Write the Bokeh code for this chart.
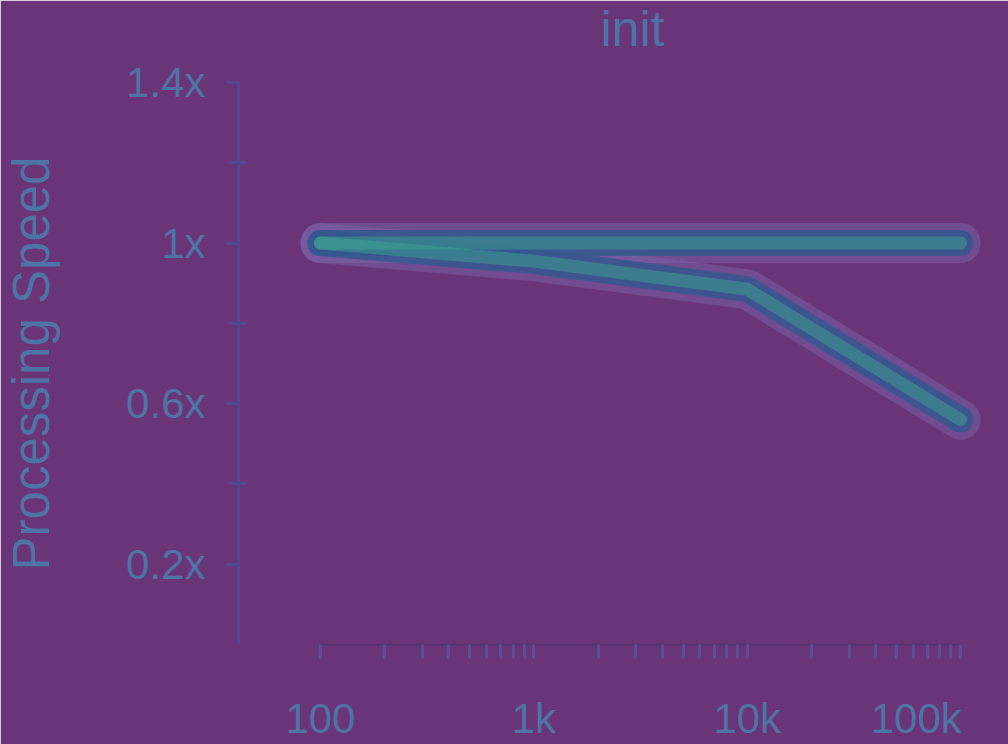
from bokeh.plotting import figure
from bokeh.models import ColumnDataSource, FixedTicker, CustomJSTickFormatter, Range1d, Title
from bokeh.embed import file_html
from bokeh.resources import INLINE

# ---- data ----
sizes = [100, 1000, 10000, 100000]
speed_flat = [1.0, 1.0, 1.0, 1.0]
speed_drop = [1.0, 0.955, 0.885, 0.56]
y_major_ticks = [0.2, 0.6, 1.0, 1.4]
y_minor_ticks = [0.4, 0.8, 1.2]
x_major_ticks = [100, 1000, 10000, 100000]
x_minor_mult = [2, 3, 4, 5, 6, 7, 8, 9]
title_text = "init"
y_label = "Processing Speed"

BG = "#6a3578"
TEXT = "#4d74a3"
FONT = "Liberation Sans"

p = figure(width=1008, height=744, x_axis_type="log",
           x_range=Range1d(41.3, 138000), y_range=Range1d(0, 1.4),
           output_backend="svg", toolbar_location=None,
           min_border_left=238, min_border_right=18,
           min_border_top=82, min_border_bottom=95)

p.background_fill_color = BG
p.border_fill_color = BG
p.outline_line_color = BG
p.outline_line_width = 2
p.grid.visible = False

# spacing between plot frame and title
p.add_layout(Title(text=" ", text_font_size="2px", standoff=20, text_color=BG), "above")

# title
p.title.text = title_text
p.title.align = "left"
p.title.offset = 362
p.title.standoff = 0
p.title.vertical_align = "top"
p.title.text_font = FONT
p.title.text_font_size = "50px"
p.title.text_font_style = "normal"
p.title.text_color = TEXT

src_a = ColumnDataSource(dict(x=sizes, y=speed_flat))
src_b = ColumnDataSource(dict(x=sizes, y=speed_drop))

for src in (src_a, src_b):
    p.line("x", "y", source=src, line_width=40, line_color="#7a69ad", line_alpha=0.45,
           line_cap="round", line_join="round")
for src in (src_a, src_b):
    p.line("x", "y", source=src, line_width=26, line_color="#34578f", line_alpha=0.85,
           line_cap="round", line_join="round")
for src in (src_a, src_b):
    p.line("x", "y", source=src, line_width=13, line_color="#3fb08f", line_alpha=0.42,
           line_cap="round", line_join="round")

# y axis
ya = p.yaxis[0]
ya.ticker = FixedTicker(ticks=y_major_ticks, minor_ticks=y_minor_ticks)
ya.formatter = CustomJSTickFormatter(code="return tick.toFixed(1).replace(/\\.0$/, '') + 'x';")
ya.axis_label = y_label
ya.axis_label_text_font = FONT
ya.axis_label_text_font_size = "51px"
ya.axis_label_text_font_style = "normal"
ya.axis_label_text_color = TEXT
ya.axis_label_standoff = 63
ya.major_label_text_font = FONT
ya.major_label_text_font_size = "42px"
ya.major_label_text_color = TEXT
ya.major_label_standoff = 21
ya.axis_line_color = "#4f4a8f"
ya.axis_line_width = 3
ya.major_tick_line_color = "#4f4a8f"
ya.major_tick_line_width = 3
ya.major_tick_out = 12
ya.major_tick_in = 0
ya.minor_tick_line_color = "#4f4a8f"
ya.minor_tick_line_width = 3
ya.minor_tick_out = 10
ya.minor_tick_in = 8

# x axis
xa = p.xaxis[0]
xa.ticker = FixedTicker(ticks=x_major_ticks,
                        minor_ticks=[m * d for d in x_major_ticks[:-1] for m in x_minor_mult])
xa.bounds = (100, 100000)
xa.formatter = CustomJSTickFormatter(code="""
var v = Math.round(tick);
if (v >= 100000) { return Math.round(v / 1000) + 'k' + '\\u00a0\\u00a0\\u00a0\\u00a0'; }
if (v >= 1000) { return Math.round(v / 1000) + 'k'; }
return '' + v;
""")
xa.major_label_text_font = FONT
xa.major_label_text_font_size = "42px"
xa.major_label_text_color = TEXT
xa.major_label_standoff = 36
xa.axis_line_color = "#55306f"
xa.axis_line_width = 2
xa.major_tick_line_color = "#5a4f95"
xa.major_tick_line_width = 3
xa.major_tick_out = 14
xa.major_tick_in = 0
xa.minor_tick_line_color = "#5a4f95"
xa.minor_tick_line_width = 3
xa.minor_tick_out = 14
xa.minor_tick_in = 0

open("out.html", "w").write(file_html(p, INLINE))
